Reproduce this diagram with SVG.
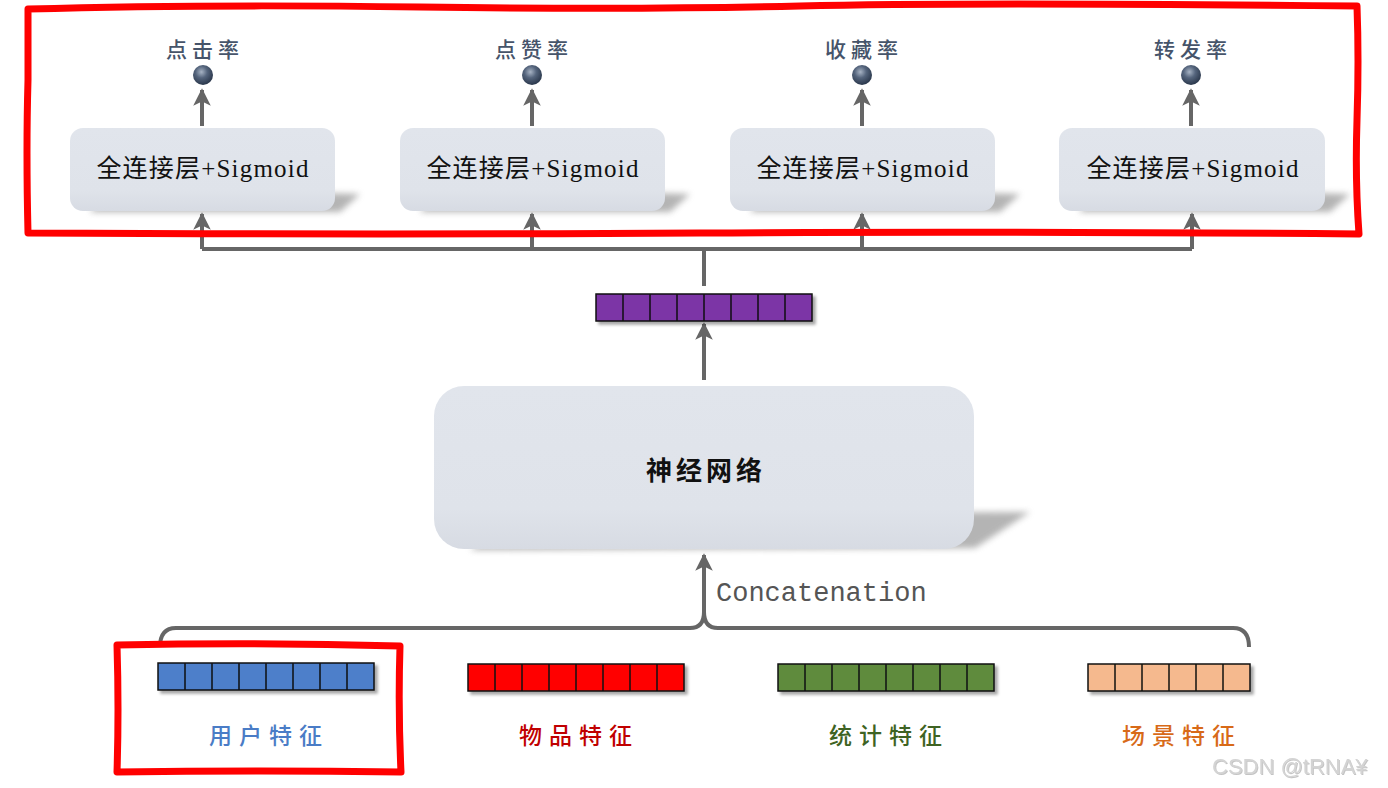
<svg xmlns="http://www.w3.org/2000/svg" width="1388" height="788" viewBox="0 0 1388 788">
<defs>
<style>
.box{fill:url(#boxg);}
.fctext{font-family:"Liberation Serif","Noto Sans CJK SC",serif;font-size:25px;fill:#111;letter-spacing:1.2px;text-anchor:middle;}
.toplab{font-family:"Noto Sans CJK SC",sans-serif;font-size:21px;fill:#46546a;letter-spacing:5px;text-anchor:middle;font-weight:500;}
.botlab{font-family:"Noto Sans CJK SC",sans-serif;font-size:23px;letter-spacing:7px;text-anchor:middle;font-weight:500;}
.conn{fill:none;stroke:#666;stroke-width:4;}
.cell{stroke:#111;stroke-width:1.5;}
.shadow{fill:#777;opacity:0.55;filter:url(#blur);}
.hand{fill:none;stroke:#ff0000;stroke-width:7;stroke-linejoin:round;stroke-linecap:round;}
</style>
<linearGradient id="boxg" x1="0" y1="0" x2="0" y2="1">
<stop offset="0" stop-color="#e1e5ec"/>
<stop offset="0.75" stop-color="#dfe3ea"/>
<stop offset="1" stop-color="#d7dbe3"/>
</linearGradient>
<radialGradient id="ball" cx="0.42" cy="0.35" r="0.65">
<stop offset="0" stop-color="#a7b3c4"/>
<stop offset="0.45" stop-color="#55657d"/>
<stop offset="1" stop-color="#2a374b"/>
</radialGradient>
<filter id="blur" x="-20%" y="-50%" width="140%" height="200%"><feGaussianBlur stdDeviation="3"/></filter>
<filter id="vshadow" x="-10%" y="-40%" width="130%" height="200%"><feDropShadow dx="3" dy="3" stdDeviation="1.8" flood-color="#000" flood-opacity="0.35"/></filter>
<filter id="wm" x="-5%" y="-20%" width="110%" height="150%"><feDropShadow dx="1" dy="1" stdDeviation="0.6" flood-color="#888" flood-opacity="0.5"/></filter>
<marker id="ah" viewBox="0 0 10 10" refX="9" refY="5" markerWidth="4.4" markerHeight="4.4" orient="auto" markerUnits="strokeWidth">
<path d="M0,0 L10,5 L0,10 L2.5,5 Z" fill="#666"/>
</marker>
</defs>

<rect width="1388" height="788" fill="#ffffff"/>

<g id="connectors">
<path class="conn" d="M704,286 V249"/>
<path class="conn" d="M202,249 H1192"/>
<path class="conn" marker-end="url(#ah)" d="M202,249 V214"/>
<path class="conn" marker-end="url(#ah)" d="M532,249 V214"/>
<path class="conn" marker-end="url(#ah)" d="M862,249 V214"/>
<path class="conn" marker-end="url(#ah)" d="M1192,249 V214"/>
<path class="conn" marker-end="url(#ah)" d="M202,126 V90"/>
<path class="conn" marker-end="url(#ah)" d="M532,126 V90"/>
<path class="conn" marker-end="url(#ah)" d="M862,126 V90"/>
<path class="conn" marker-end="url(#ah)" d="M1191,126 V90"/>
<path class="conn" marker-end="url(#ah)" d="M704,380 V324"/>
<path class="conn" marker-end="url(#ah)" d="M704,614 V555"/>
<path class="conn" d="M160,647 Q160,628 176,628 H690 Q704,628 704,612 Q704,628 718,628 H1233 Q1249,628 1249,647"/>
<text x="716" y="601" font-family="'Liberation Mono','DejaVu Sans Mono',monospace" font-size="27" fill="#555">Concatenation</text>
</g>

<g id="fc1">
<path class="shadow" d="M110,188 L360,194 L340,212 L90,212 Z"/>
<rect class="box" x="70" y="128" width="265" height="83" rx="13"/>
<text class="fctext" x="203" y="177">全连接层+Sigmoid</text>
</g>
<g id="fc2">
<path class="shadow" d="M440,188 L690,194 L670,212 L420,212 Z"/>
<rect class="box" x="400" y="128" width="265" height="83" rx="13"/>
<text class="fctext" x="533" y="177">全连接层+Sigmoid</text>
</g>
<g id="fc3">
<path class="shadow" d="M770,188 L1020,194 L1000,212 L750,212 Z"/>
<rect class="box" x="730" y="128" width="265" height="83" rx="13"/>
<text class="fctext" x="863" y="177">全连接层+Sigmoid</text>
</g>
<g id="fc4">
<path class="shadow" d="M1099,188 L1350,194 L1330,212 L1079,212 Z"/>
<rect class="box" x="1059" y="128" width="266" height="83" rx="13"/>
<text class="fctext" x="1193" y="177">全连接层+Sigmoid</text>
</g>

<g id="out1">
<circle cx="203" cy="75" r="10" fill="url(#ball)"/>
<text class="toplab" x="205" y="57">点击率</text>
</g>
<g id="out2">
<circle cx="532" cy="75" r="10" fill="url(#ball)"/>
<text class="toplab" x="534" y="57">点赞率</text>
</g>
<g id="out3">
<circle cx="862" cy="75" r="10" fill="url(#ball)"/>
<text class="toplab" x="864" y="57">收藏率</text>
</g>
<g id="out4">
<circle cx="1191" cy="75" r="10" fill="url(#ball)"/>
<text class="toplab" x="1193" y="57">转发率</text>
</g>

<g id="merged-vector" filter="url(#vshadow)">
<rect class="cell" x="596" y="294" width="216" height="27" fill="#7b35a6"/>
<path class="cell" d="M623,294V321M650,294V321M677,294V321M704,294V321M731,294V321M758,294V321M785,294V321"/>
</g>

<g id="nn">
<path class="shadow" d="M520,515 L1030,512 L975,548 L470,550 Z"/>
<rect class="box" x="434" y="386" width="540" height="163" rx="30"/>
<text x="706" y="480" text-anchor="middle" font-family="'Noto Sans CJK SC',sans-serif" font-size="26" font-weight="bold" letter-spacing="4" fill="#111">神经网络</text>
</g>

<g id="user-feat">
<g filter="url(#vshadow)">
<rect class="cell" x="158" y="663" width="216" height="27" fill="#4e7fca"/>
<path class="cell" d="M185,663V690M212,663V690M239,663V690M266,663V690M293,663V690M320,663V690M347,663V690"/>
</g>
<text class="botlab" x="269" y="744" fill="#4a7cc6">用户特征</text>
</g>
<g id="item-feat">
<g filter="url(#vshadow)">
<rect class="cell" x="468" y="664" width="216" height="27" fill="#ff0000"/>
<path class="cell" d="M495,664V691M522,664V691M549,664V691M576,664V691M603,664V691M630,664V691M657,664V691"/>
</g>
<text class="botlab" x="579" y="744" fill="#c00000">物品特征</text>
</g>
<g id="stat-feat">
<g filter="url(#vshadow)">
<rect class="cell" x="778" y="664" width="216" height="27" fill="#5f8b3d"/>
<path class="cell" d="M805,664V691M832,664V691M859,664V691M886,664V691M913,664V691M940,664V691M967,664V691"/>
</g>
<text class="botlab" x="889" y="744" fill="#3e6323">统计特征</text>
</g>
<g id="scene-feat">
<g filter="url(#vshadow)">
<rect class="cell" x="1088" y="664" width="162" height="27" fill="#f5b98e"/>
<path class="cell" d="M1115,664V691M1142,664V691M1169,664V691M1196,664V691M1223,664V691"/>
</g>
<text class="botlab" x="1182" y="744" fill="#d86a18">场景特征</text>
</g>

<g id="highlights">
<path class="hand" d="M28,9 Q200,4 420,7 T800,6 T1357,6 Q1359,60 1357,120 T1359,234 Q1000,231 700,233 T28,233 Q26,150 28,80 Z"/>
<path class="hand" d="M117,645 Q260,642 400,646 Q398,710 401,772 Q260,770 117,772 Q119,710 117,645 Z"/>
</g>

<text x="1212" y="774" font-family="'Liberation Sans',sans-serif" font-size="22" fill="#d4d4d4" filter="url(#wm)">CSDN @tRNA¥</text>
</svg>
